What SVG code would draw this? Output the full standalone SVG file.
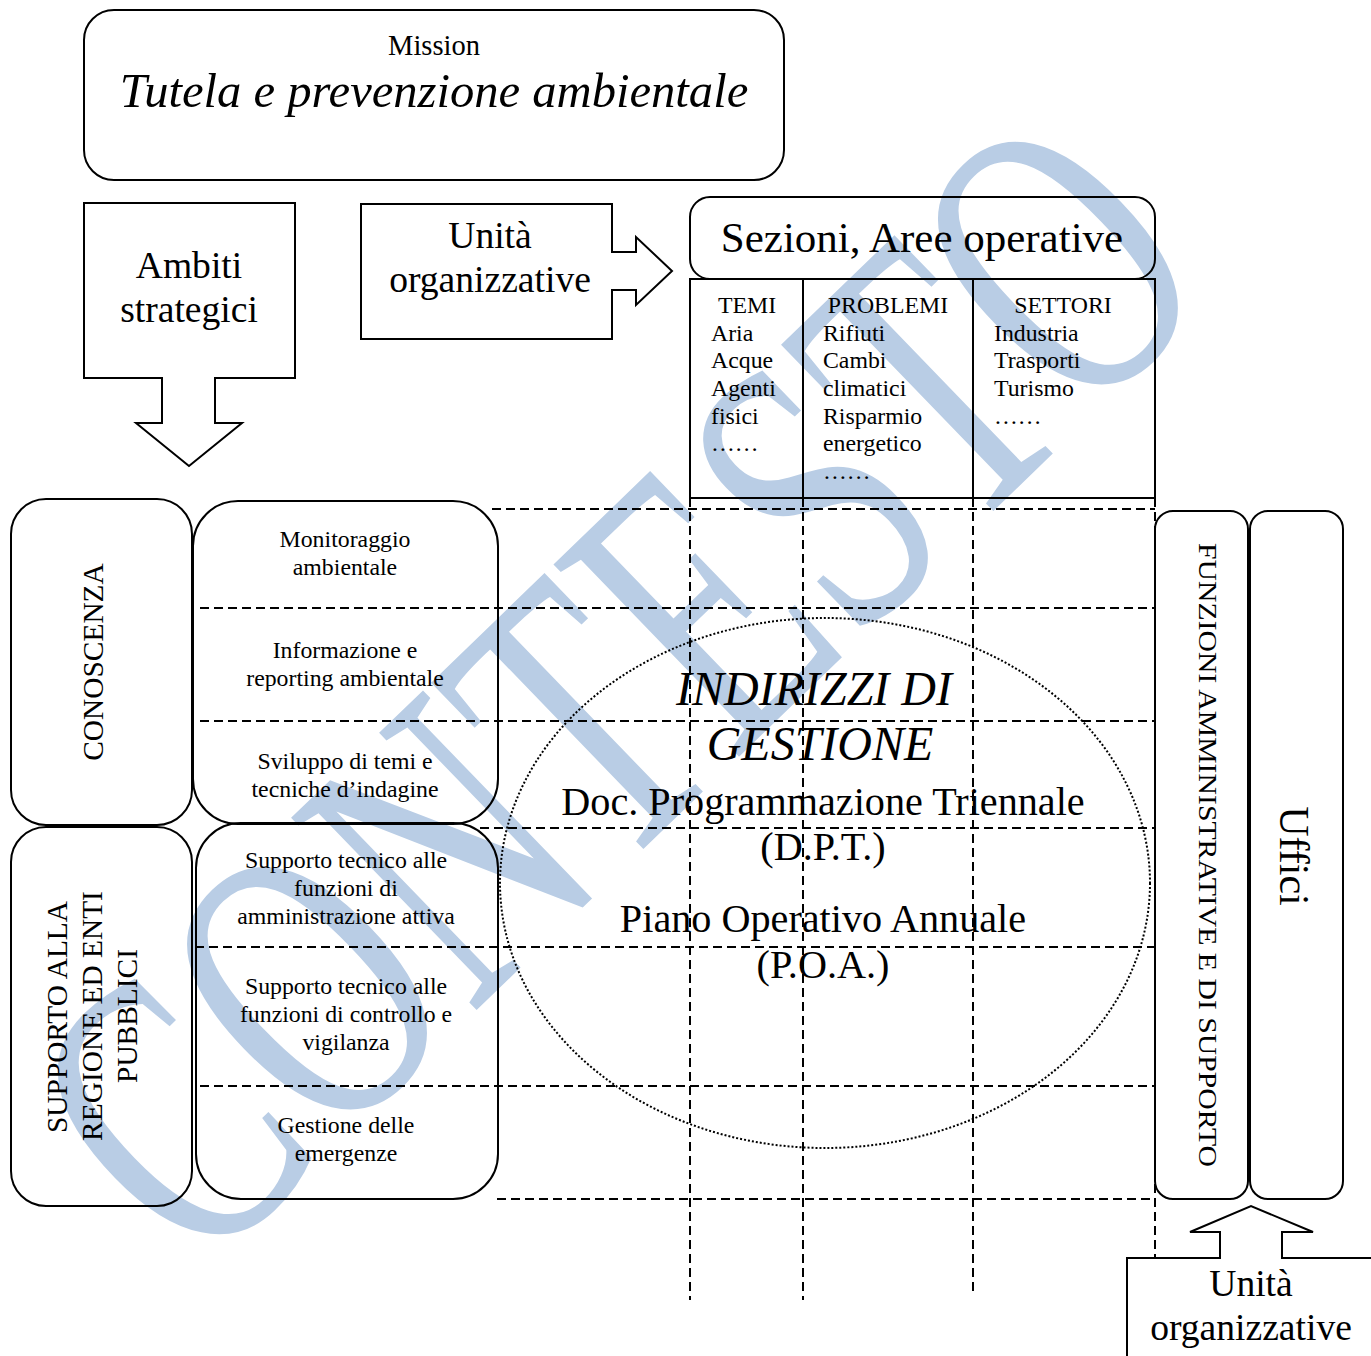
<svg xmlns="http://www.w3.org/2000/svg" width="1371" height="1356" viewBox="0 0 1371 1356">
<style>
text{font-family:"Liberation Serif","Times New Roman",serif;fill:#000}
.box{fill:none;stroke:#000;stroke-width:2}
.dash{fill:none;stroke:#000;stroke-width:2;stroke-dasharray:9 5}
.c{text-anchor:middle}
.s22{font-size:23.8px}
.s36{font-size:37.6px}
.v{font-size:29.4px}
.big{font-size:40.2px}
.it{font-style:italic}
</style>
<rect width="1371" height="1356" fill="#fff"/>
<g id="watermark" transform="translate(618,690) rotate(-44) scale(1,1.5)">
<text x="0" y="88" text-anchor="middle" font-size="272" textLength="1424" lengthAdjust="spacingAndGlyphs" style="fill:#b9cde5">CONTESTO</text>
</g>
<g id="connectors">
<line class="dash" x1="492" y1="509" x2="1155" y2="509"/>
<line class="dash" x1="200" y1="608" x2="1155" y2="608"/>
<line class="dash" x1="200" y1="721" x2="1155" y2="721"/>
<line class="dash" x1="480" y1="828" x2="1155" y2="828"/>
<line class="dash" x1="195" y1="947" x2="1155" y2="947"/>
<line class="dash" x1="200" y1="1086" x2="1155" y2="1086"/>
<line class="dash" x1="497" y1="1199" x2="1155" y2="1199"/>
<line class="dash" x1="690" y1="498" x2="690" y2="1300"/>
<line class="dash" x1="803" y1="498" x2="803" y2="1300"/>
<line class="dash" x1="973" y1="498" x2="973" y2="1295"/>
<line class="dash" x1="1155" y1="498" x2="1155" y2="1258"/>
</g>
<g id="mission">
<rect class="box" x="84" y="10" width="700" height="170" rx="30"/>
<text class="c" x="434" y="55" font-size="28.5">Mission</text>
<text class="c it" x="434" y="107" font-size="48.6">Tutela e prevenzione ambientale</text>
</g>
<g id="ambiti">
<path class="box" d="M84 203H295V378H215V423H242L189 466L136 423H162V378H84Z"/>
<text class="c s36" x="189" y="278">Ambiti</text>
<text class="c s36" x="189" y="322">strategici</text>
</g>
<g id="unita-top">
<path class="box" d="M361 204H612V252H636V237L672 271L636 305V290H612V339H361Z"/>
<text class="c s36" x="490" y="248">Unità</text>
<text class="c s36" x="490" y="292">organizzative</text>
</g>
<g id="sezioni">
<rect class="box" x="690" y="197" width="465" height="82" rx="20"/>
<text class="c" x="922" y="252" font-size="43">Sezioni, Aree operative</text>
</g>
<g id="tabella">
<rect class="box" x="690" y="279" width="465" height="219"/>
<line class="box" x1="803" y1="279" x2="803" y2="498"/>
<line class="box" x1="973" y1="279" x2="973" y2="498"/>
<text class="c s22" x="747" y="313">TEMI</text>
<text class="s22" x="711" y="341">Aria</text>
<text class="s22" x="711" y="368">Acque</text>
<text class="s22" x="711" y="396">Agenti</text>
<text class="s22" x="711" y="424">fisici</text>
<text class="s22" x="711" y="451">……</text>
<text class="c s22" x="888" y="313">PROBLEMI</text>
<text class="s22" x="823" y="341">Rifiuti</text>
<text class="s22" x="823" y="368">Cambi</text>
<text class="s22" x="823" y="396">climatici</text>
<text class="s22" x="823" y="424">Risparmio</text>
<text class="s22" x="823" y="451">energetico</text>
<text class="s22" x="823" y="479">……</text>
<text class="c s22" x="1063" y="313">SETTORI</text>
<text class="s22" x="994" y="341">Industria</text>
<text class="s22" x="994" y="368">Trasporti</text>
<text class="s22" x="994" y="396">Turismo</text>
<text class="s22" x="994" y="424">……</text>
</g>
<g id="conoscenza">
<rect class="box" x="11" y="499" width="181" height="326" rx="35"/>
<text class="c v" transform="translate(103,662) rotate(-90)">CONOSCENZA</text>
</g>
<g id="conoscenza-funzioni">
<rect class="box" x="193" y="501" width="305" height="323" rx="45"/>
<text class="c s22" x="345" y="547">Monitoraggio</text>
<text class="c s22" x="345" y="575">ambientale</text>
<text class="c s22" x="345" y="658">Informazione e</text>
<text class="c s22" x="345" y="686">reporting ambientale</text>
<text class="c s22" x="345" y="769">Sviluppo di temi e</text>
<text class="c s22" x="345" y="797">tecniche d’indagine</text>
</g>
<g id="supporto">
<rect class="box" x="11" y="827" width="181" height="379" rx="35"/>
<text class="c v" transform="translate(67,1017) rotate(-90)">SUPPORTO ALLA</text>
<text class="c v" transform="translate(102,1016) rotate(-90)">REGIONE ED ENTI</text>
<text class="c v" transform="translate(137,1016) rotate(-90)">PUBBLICI</text>
</g>
<g id="supporto-funzioni">
<rect class="box" x="196" y="823" width="302" height="376" rx="45"/>
<text class="c s22" x="346" y="868">Supporto tecnico alle</text>
<text class="c s22" x="346" y="896">funzioni di</text>
<text class="c s22" x="346" y="924">amministrazione attiva</text>
<text class="c s22" x="346" y="994">Supporto tecnico alle</text>
<text class="c s22" x="346" y="1022">funzioni di controllo e</text>
<text class="c s22" x="346" y="1050">vigilanza</text>
<text class="c s22" x="346" y="1133">Gestione delle</text>
<text class="c s22" x="346" y="1161">emergenze</text>
</g>
<g id="indirizzi">
<ellipse cx="825" cy="883" rx="325" ry="265" fill="none" stroke="#000" stroke-width="2" stroke-dasharray="2 2"/>
<text class="c it" x="814" y="705" font-size="48">INDIRIZZI DI</text>
<text class="c it" x="820" y="760" font-size="48">GESTIONE</text>
<text class="c big" x="823" y="815">Doc. Programmazione Triennale</text>
<text class="c big" x="823" y="860">(D.P.T.)</text>
<text class="c big" x="823" y="932">Piano Operativo Annuale</text>
<text class="c big" x="823" y="978">(P.O.A.)</text>
</g>
<g id="funzioni-amministrative">
<rect class="box" x="1155" y="511" width="93" height="688" rx="18"/>
<text class="c" transform="translate(1199,855) rotate(90)" font-size="26" textLength="624" lengthAdjust="spacingAndGlyphs">FUNZIONI AMMINISTRATIVE E DI SUPPORTO</text>
</g>
<g id="uffici">
<rect class="box" x="1250" y="511" width="93" height="688" rx="18"/>
<text class="c" transform="translate(1280,856) rotate(90)" font-size="42">Uffici</text>
</g>
<g id="unita-bottom">
<path class="box" d="M1127 1360V1258H1220V1232H1190L1251 1206L1313 1232H1282V1258H1375"/>
<text class="c s36" x="1251" y="1296">Unità</text>
<text class="c s36" x="1251" y="1340">organizzative</text>
</g>
</svg>
